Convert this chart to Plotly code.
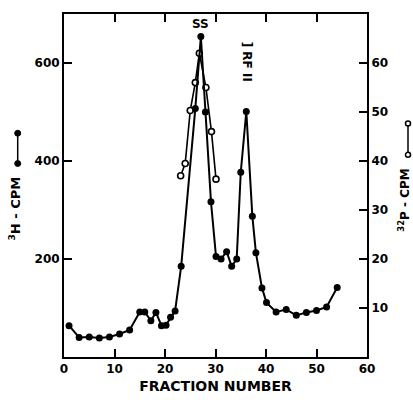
import plotly.graph_objects as go

# 3H-CPM (filled circles, left axis)
h_fraction = [1, 3, 5, 7, 9, 11, 13, 15, 16, 17.2, 18.2, 19.3, 20.2, 21.1, 22, 23.2,
              26, 27.1, 28, 29.1, 30.1, 31.1, 32.2, 33.2, 34.2, 35, 36.1, 37.3, 38,
              39.2, 40.1, 42, 44, 46, 48, 50, 52, 54.1]
h_cpm = [64, 40, 41, 39, 41, 47, 55, 92, 92, 74, 91, 64, 65, 81, 94, 185,
         507, 654, 500, 317, 205, 200, 215, 185, 200, 377, 501, 287, 213,
         141, 111, 92, 97, 85, 91, 95, 102, 142]

# 32P-CPM (open circles, right axis)
p_fraction = [23.1, 24, 25, 26, 26.8, 28.1, 29.2, 30.1]
p_cpm = [37, 39.5, 50.3, 56, 62, 55, 46, 36.3]

x_ticks = [0, 10, 20, 30, 40, 50, 60]
left_ticks = [200, 400, 600]
right_ticks = [10, 20, 30, 40, 50, 60]

FONT = "DejaVu Sans"

fig = go.Figure()
# open-circle series on the right axis (drawn underneath)
fig.add_trace(go.Scatter(
    x=p_fraction, y=p_cpm, mode="lines+markers",
    line=dict(color="black", width=1.6),
    marker=dict(color="white", size=6, symbol="circle",
                line=dict(color="black", width=1.6)),
    yaxis="y", showlegend=False))
# filled-circle series on the left axis (drawn on top)
fig.add_trace(go.Scatter(
    x=h_fraction, y=h_cpm, mode="lines+markers",
    line=dict(color="black", width=2),
    marker=dict(color="black", size=7, symbol="circle"),
    yaxis="y2", showlegend=False))

tickfont = dict(family=FONT, size=12, color="black", weight="bold")

fig.update_layout(
    width=413, height=404,
    margin=dict(l=64, r=46, t=12, b=41),
    paper_bgcolor="white", plot_bgcolor="white",
    xaxis=dict(range=[0, 60], tickvals=x_ticks, ticks="inside", ticklen=8,
               tickwidth=2, tickcolor="black", showline=True, linewidth=2,
               linecolor="black", mirror="ticks", showgrid=False, zeroline=False,
               tickfont=tickfont,
               title=dict(text="FRACTION NUMBER", standoff=6,
                          font=dict(family=FONT, size=14, color="black", weight="bold"))),
    yaxis=dict(range=[0, 70], tickvals=right_ticks, ticks="inside", ticklen=8,
               tickwidth=2, tickcolor="black", showline=True, linewidth=2,
               linecolor="black", showgrid=False, zeroline=False,
               side="right", tickfont=tickfont),
    yaxis2=dict(range=[0, 700], tickvals=left_ticks, ticks="inside", ticklen=8,
                tickwidth=2, tickcolor="black", showline=True, linewidth=2,
                linecolor="black", showgrid=False, zeroline=False,
                overlaying="y", side="left", tickfont=tickfont),
)

annfont = dict(family=FONT, size=12, color="black", weight="bold")
fig.add_annotation(x=27.1, y=680, text="SS", showarrow=False, font=annfont,
                   xref="x", yref="y2")
fig.add_annotation(x=36.4, y=603, text="] RF II", showarrow=False, font=annfont,
                   textangle=90, xref="x", yref="y2")

# legend glyphs / titles (pixel positions converted to paper coords)
W = 413 - 64 - 46
H = 404 - 12 - 41
def px(xp):
    return (xp - 64) / W
def py(yp):
    return (404 - 41 - yp) / H

fig.add_annotation(xref="paper", yref="paper", x=px(15), y=py(211),
                   xanchor="center", yanchor="middle",
                   text="<sup>3</sup>H - CPM", textangle=-90, showarrow=False,
                   font=dict(family=FONT, size=13, color="black", weight="bold"))
fig.add_annotation(xref="paper", yref="paper", x=px(404), y=py(203),
                   xanchor="center", yanchor="middle",
                   text="<sup>32</sup>P - CPM", textangle=-90, showarrow=False,
                   font=dict(family=FONT, size=12, color="black", weight="bold"))

fig.add_shape(type="line", xref="paper", yref="paper",
              x0=px(17.7), x1=px(17.7), y0=py(134), y1=py(165),
              line=dict(color="black", width=1.5))
for yy in (134, 165):
    fig.add_shape(type="circle", xref="paper", yref="paper",
                  x0=px(17.7 - 3), x1=px(17.7 + 3), y0=py(yy - 3), y1=py(yy + 3),
                  fillcolor="black", line=dict(color="black", width=1))
fig.add_shape(type="line", xref="paper", yref="paper",
              x0=px(408), x1=px(408), y0=py(124), y1=py(156),
              line=dict(color="black", width=1.5))
for yy in (124, 156):
    fig.add_shape(type="circle", xref="paper", yref="paper",
                  x0=px(408 - 2.5), x1=px(408 + 2.5), y0=py(yy - 2.5), y1=py(yy + 2.5),
                  fillcolor="white", line=dict(color="black", width=1.5))

fig.write_html("out.html")
